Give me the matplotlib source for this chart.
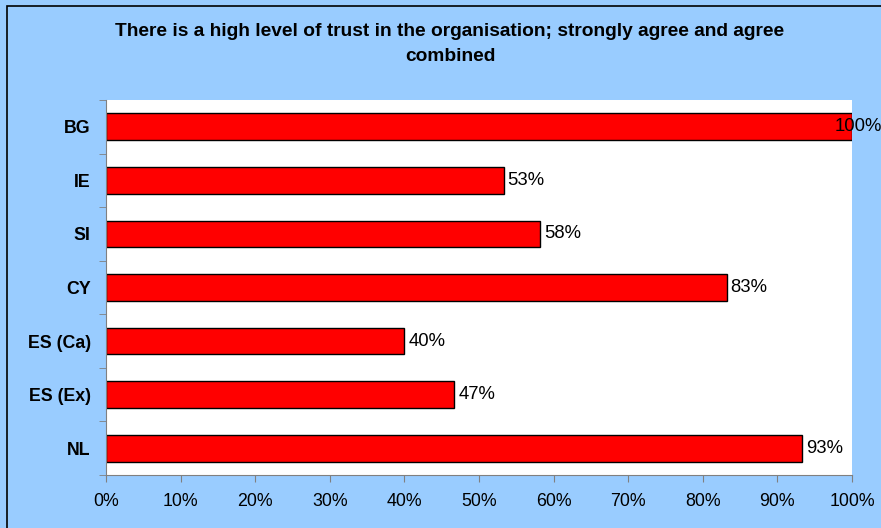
import matplotlib.pyplot as plt
from matplotlib.patches import Rectangle
import numpy as np

plt.rcParams['font.family'] = ['Liberation Sans', 'DejaVu Sans']

countries = ["BG", "IE", "SI", "CY", "ES (Ca)", "ES (Ex)", "NL"]
values = [1.00, 0.533, 0.582, 0.832, 0.40, 0.467, 0.933]
title = "There is a high level of trust in the organisation; strongly agree and agree\ncombined"

bg = "#99CCFF"
fig = plt.figure(figsize=(8.81, 5.28), dpi=100, facecolor=bg)

# black frame round the chart area
fig.patches.append(Rectangle((7 / 881, -0.05), 1.2, 1 - 6 / 528 + 0.05, transform=fig.transFigure,
                             fill=False, edgecolor="black", linewidth=1.2))

ax = fig.add_axes([106 / 881, 1 - 475 / 528, (852 - 106) / 881, (475 - 100) / 528])
ax.set_facecolor("white")

y = np.arange(len(countries))
ax.barh(y, values, height=0.5, color="#FF0000", edgecolor="black", linewidth=1)

ax.set_ylim(len(countries) - 0.5, -0.5)
ax.set_xlim(0, 1)

ax.set_yticks(y)
ax.set_yticklabels(countries, fontsize=12.8, fontweight="bold")
ax.set_yticks(np.arange(len(countries) + 1) - 0.5, minor=True)
ax.tick_params(axis="y", which="major", length=0, pad=11)
ax.tick_params(axis="y", which="minor", length=5, color="#808080", direction="out")

xt = np.linspace(0, 1, 11)
ax.set_xticks(xt)
ax.set_xticklabels([f"{int(round(t * 100))}%" for t in xt], fontsize=12.8)
ax.tick_params(axis="x", length=5, color="#808080", direction="out", pad=8)

for s in ["top", "right"]:
    ax.spines[s].set_visible(False)
for s in ["left", "bottom"]:
    ax.spines[s].set_color("#808080")

for yi, v in zip(y, values):
    off = -17 if v >= 1 else 4
    ax.annotate(f"{int(round(v * 100))}%", (v, yi), xytext=(off, 0), textcoords="offset pixels",
                ha="left", va="center", fontsize=13.3, annotation_clip=False)

fig.text(450 / 881, 1 - 44 / 528, title, ha="center", va="center", fontsize=13.8,
         fontweight="bold", linespacing=1.55)

fig.savefig("out.png", dpi=100, facecolor=bg)
